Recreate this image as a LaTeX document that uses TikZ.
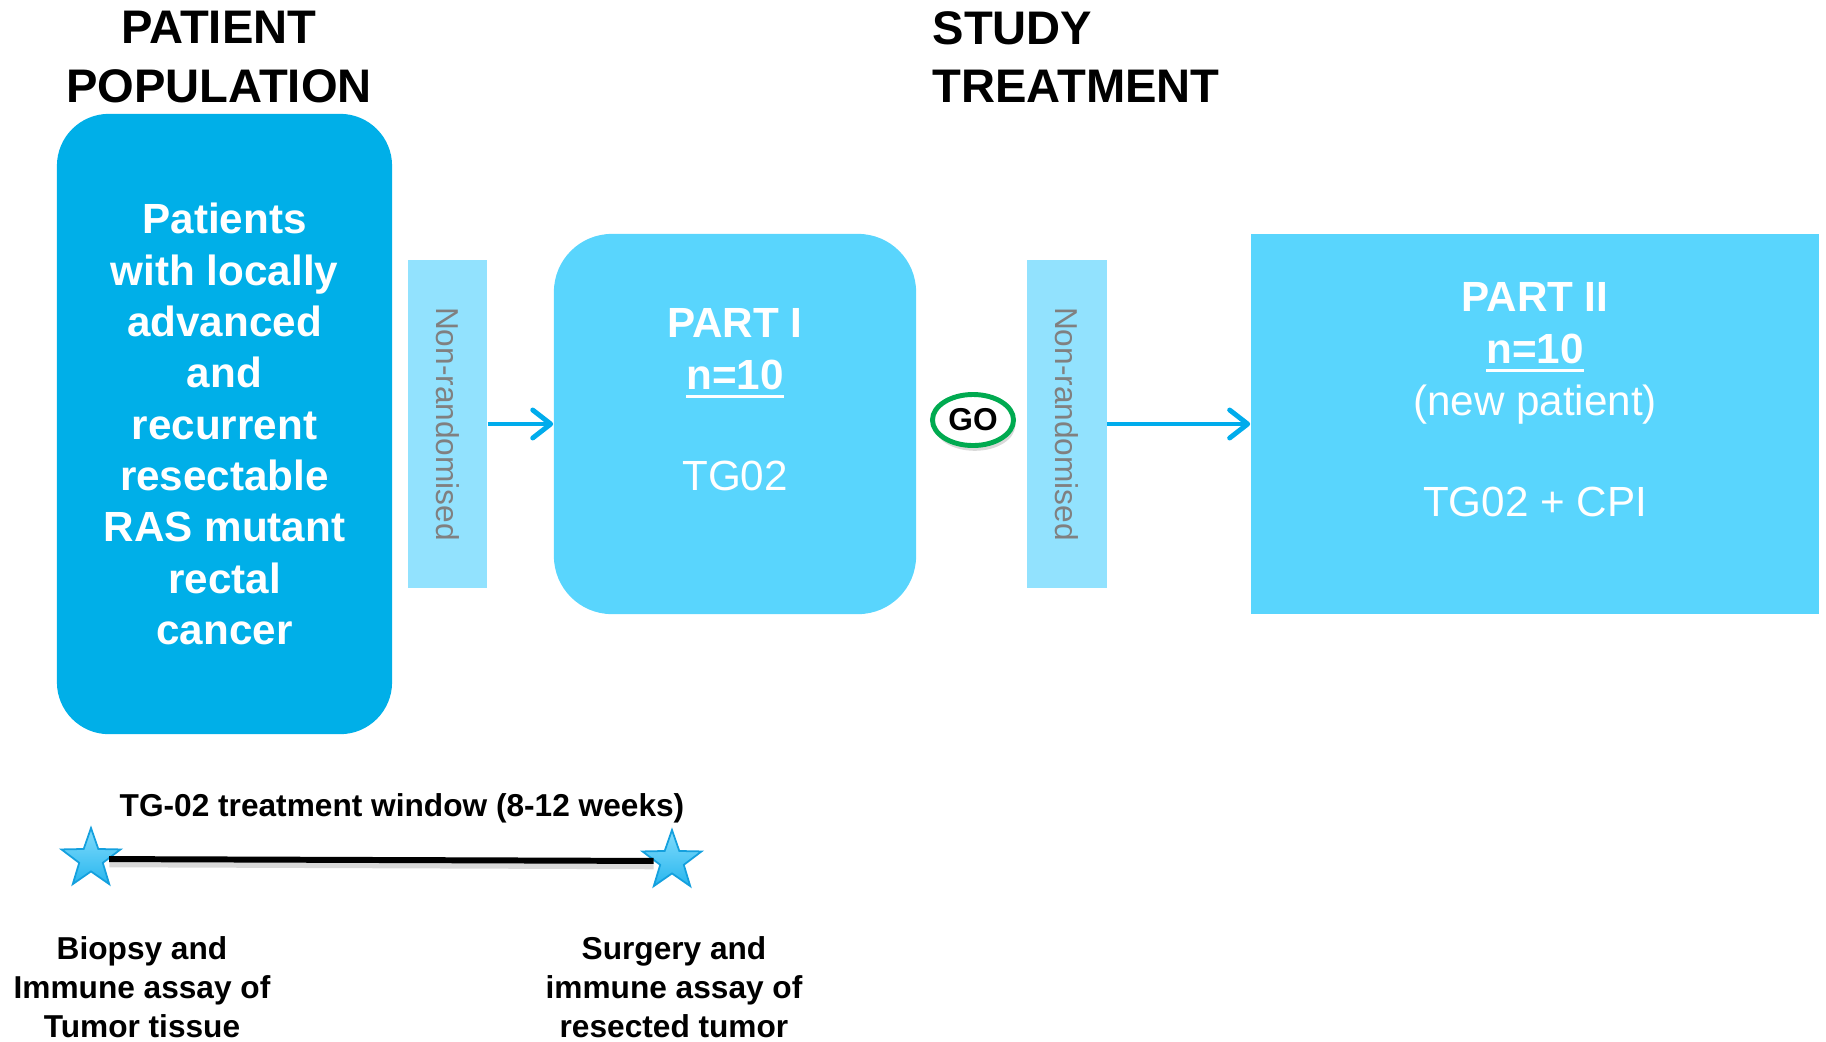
\documentclass[tikz,border=0pt]{standalone}
\usepackage{fontspec}
\setmainfont{Liberation Sans}
\usepackage{tikz}
\usetikzlibrary{arrows.meta,shapes,shadows,shadings}
\definecolor{pop-blue}{RGB}{0,175,232}
\definecolor{part-blue}{RGB}{89,213,253}
\definecolor{bar-blue}{RGB}{146,226,254}
\definecolor{arrow-blue}{RGB}{0,172,236}
\definecolor{go-green}{RGB}{0,170,80}
\definecolor{bar-grey}{RGB}{128,128,128}
\definecolor{star-top}{RGB}{130,220,252}
\definecolor{star-bottom}{RGB}{40,182,238}
\definecolor{star-edge}{RGB}{20,160,222}
\tikzset{
	flow/.style={line width=1.4pt, draw=arrow-blue, -{Straight Barb[length=1.8mm,width=2.8mm,round]}}
}
\tikzstyle{heading}=[inner sep=0pt, font=\bfseries\fontsize{13.4}{16.5}\selectfont]
\tikzstyle{popbox}=[rounded corners=0.52cm, fill=pop-blue, minimum width=3.35cm, minimum height=6.2cm, text=white, align=center]
\tikzstyle{partbox}=[fill=part-blue, minimum height=3.8cm]
\tikzstyle{barbox}=[fill=bar-blue, rotate=-90, minimum width=3.27cm, minimum height=0.79cm, text=bar-grey, font=\fontsize{9}{10}\selectfont]
\tikzstyle{parttext}=[text=white, align=center, font=\fontsize{12}{14.8}\selectfont]
\tikzstyle{goring}=[ellipse, draw=go-green, line width=1.4pt, fill=white, minimum width=0.81cm, minimum height=0.51cm, inner sep=0pt, font=\bfseries\fontsize{9}{10}\selectfont, drop shadow={opacity=0.3, shadow xshift=0.5pt, shadow yshift=-1.5pt}]
\tikzstyle{starmark}=[star, star points=5, star point ratio=2.5, minimum size=0.62cm, inner sep=0pt, top color=star-top, bottom color=star-bottom, draw=star-edge, line width=0.5pt]
\tikzstyle{note}=[align=center, font=\bfseries\fontsize{9}{11}\selectfont]
\newlength\ulwd
\newcommand{\ulnum}[1]{\settowidth{\ulwd}{#1}\rlap{\rule[-2.6pt]{\ulwd}{0.9pt}}#1}

\begin{document}
\begin{tikzpicture}[x=0.01cm,y=-0.01cm]
	\useasboundingbox (0,0) rectangle (1826,1041);
	\node[heading, align=center] (poptitle) at (219,57) {PATIENT\\POPULATION};
	\node[heading, align=left, anchor=west] (studytitle) at (932,57) {STUDY\\TREATMENT};
	\node[popbox, font=\bfseries\fontsize{12}{14.6}\selectfont] (pop) at (224.5,424) {Patients\\with locally\\advanced\\and\\recurrent\\resectable\\RAS mutant\\rectal\\cancer};
	\node[barbox] (bar1) at (447.5,424) {Non-randomised};
	\node[partbox, rounded corners=0.58cm, minimum width=3.62cm] (part1) at (735,424) {};
	\node[parttext] (p1txt) at (735,399.5) {\textbf{PART I}\\\textbf{\ulnum{n=10}}\\[14pt]TG02};
	\node[goring] (go) at (973,420) {GO};
	\node[barbox] (bar2) at (1067,424) {Non-randomised};
	\node[partbox, minimum width=5.68cm] (part2) at (1535,424) {};
	\node[parttext] (p2txt) at (1535,399.5) {\textbf{PART II}\\\textbf{\ulnum{n=10}}\\(new patient)\\[14pt]TG02 + CPI};
	\draw[flow] (bar1) -- (part1);
	\draw[flow] (bar2) -- (part2);
	\node[note] (window) at (402,808) {TG-02 treatment window (8-12 weeks)};
	\node[starmark] (bstar) at (91,859) {};
	\node[starmark] (sstar) at (672,861) {};
	\draw[line width=1.7pt, black!15] ([yshift=-1.5pt]bstar.east) -- ([yshift=-1.5pt]sstar.west);
	\draw[line width=1.7pt] (bstar) -- (sstar);
	\node[note] (biopsy) at (142,987) {Biopsy and\\Immune assay of\\Tumor tissue};
	\node[note] (surgery) at (674,987) {Surgery and\\immune assay of\\resected tumor};
\end{tikzpicture}
\end{document}
